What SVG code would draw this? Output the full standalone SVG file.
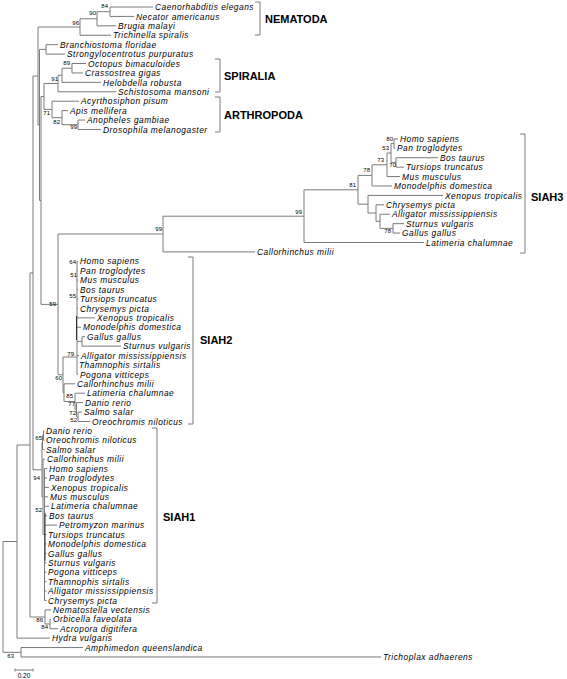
<svg xmlns="http://www.w3.org/2000/svg" width="567" height="679" viewBox="0 0 567 679">
<style>
.e{fill:none;stroke:#7a7a7a;stroke-width:1}
.d{fill:none;stroke:#333;stroke-width:1}
.k{fill:none;stroke:#7a7a7a;stroke-width:1}
.t{font-family:"Liberation Sans",Arial,sans-serif;font-style:italic;font-size:8.4px;letter-spacing:0.5px;fill:#000}
.b{font-family:"Liberation Sans",Arial,sans-serif;font-weight:bold;font-size:11px;fill:#000}
.n{font-family:"Liberation Sans",Arial,sans-serif;font-size:6px;fill:#000;text-anchor:end}
.s{font-family:"Liberation Sans",Arial,sans-serif;font-size:6.5px;fill:#000;text-anchor:middle}
</style>
<rect width="567" height="679" fill="#fff"/>
<g id="connectors">
<path class="e" d="M110,7V16.42M110,7H153M110,16.42H134M97,11.7H110M97,11.7V25.84M97,25.84H116M80,18.8H97M80,18.8V35.26M80,35.26H111M38,27H80
M46,44.68V54.1M46,44.68H58M46,54.1H65M39.5,49.4H46
M72,63.52V72.94M72,63.52H86M72,72.94H83M62,68.2H72M62,68.2V82.36M62,82.36H101M58,75.3H62M58,75.3V91.78M58,91.78H116M44,83.5H58
M78,120.04V129.46M78,120.04H85M78,129.46H101M62,124.7H78M62,110.62V124.7M62,110.62H68M52,117.7H62M52,101.2V117.7M52,101.2H79M44,109.4H52M44,83.5V109.4
M394,138.88V148.3M394,138.88H398M394,148.3H395
M396,157.72V167.14M396,157.72H438M396,167.14H404
M391,143.6V162.4M391,143.6H394M391,162.4H396
M387,153V176.56M387,153H391M387,176.56H400
M372,164.8V185.98M372,164.8H387M372,185.98H392
M393,223.66V233.08M393,223.66H404M393,233.08H400
M380,214.24V228.4M380,214.24H390M380,228.4H393
M376,204.82V221.3M376,204.82H384M376,221.3H380
M368,195.4V213M368,195.4H443M368,213H376
M358,175.4V204.2M358,175.4H372M358,204.2H368
M304,189.8V242.5M304,189.8H358M304,242.5H424
M163,216.2V251.92M163,216.2H304M163,251.92H255
M58,234V374.8M58,234H163M58,374.8H63
M41,96.5V304.4M41,96.5H44M41,304.4H58
M39.5,49.4V200.5M39.5,200.5H41
M38,27V125M38,125H39.5
M33,76V469.8M33,76H38M33,469.8H42
M30,272.9V617M30,272.9H33M30,617H45
M17,445V638.14M17,445H30M17,638.14H50
M21,647.56V656.98M21,647.56H83M21,656.98H381
M3,541.5V652.3M3,541.5H17M3,652.3H21
M77,261.34V374.38M63,357H77M77,261.34H78M77,270.76H78M77,280.18H78M77,289.6H78M77,299.02H78M77,308.44H78M77,317.86H95M77,327.28H81M77,355.54H79M77,374.38H78
M82,336.7V346.12M77,341.4H82M82,336.7H85M82,346.12H121
M78,412.06V421.48M78,412.06H82M78,421.48H90
M76.5,402.64V416.8M76.5,402.64H83M76.5,416.8H78
M75,393.22V409.7M75,393.22H85M75,409.7H76.5
M64,383.8V401.5M64,383.8H75M64,401.5H75
M63,357V392.6M63,392.6H64
M43.5,430.9V440.32M43.5,430.9H44.5M43.5,440.32H44.5
M42.5,435.6V449.74M42.5,435.6H43.5M42.5,449.74H44.5
M43,459.16V534.5M43,459.16H45M43,534.5H44.5
M42,442.7V496.9M42,442.7H42.5M42,496.9H43
M44.5,468.58V600.46M44.5,468.58H47M44.5,478H47M44.5,487.42H49M44.5,496.84H48M44.5,506.26H49M44.5,515.68H47M44.5,525.1H57M44.5,534.52H46.5M44.5,543.94H46.5M44.5,553.36H46.5M44.5,562.78H46.5M44.5,572.2H46.5M44.5,581.62H46.5M44.5,591.04H46.5M44.5,600.46H46.5
M50,619.3V628.72M50,619.3H51M50,628.72H58M45,609.88V624M45,609.88H51M45,624H50"/>
<path class="d" d="M76.5,316V340M45,513V561"/>
</g>
<g id="nematoda"><path class="k" d="M255,2H260V35H255"/><text class="b" x="265" y="22.5">NEMATODA</text></g>
<g id="spiralia"><path class="k" d="M215,59H220V92H215"/><text class="b" x="224" y="79.5">SPIRALIA</text></g>
<g id="arthropoda"><path class="k" d="M215,97H220V132H215"/><text class="b" x="224" y="118.5">ARTHROPODA</text></g>
<g id="siah3"><path class="k" d="M520,134H525V253H520"/><text class="b" x="531" y="200.5">SIAH3</text></g>
<g id="siah2"><path class="k" d="M188,257H193V424H188"/><text class="b" x="200" y="343.5">SIAH2</text></g>
<g id="siah1"><path class="k" d="M152,428H157V603H152"/><text class="b" x="163" y="520.5">SIAH1</text></g>
<g id="t0"><text class="t" x="155" y="10.1">Caenorhabditis elegans</text></g>
<g id="t1"><text class="t" x="136" y="19.5">Necator americanus</text></g>
<g id="t2"><text class="t" x="118" y="28.9">Brugia malayi</text></g>
<g id="t3"><text class="t" x="113" y="38.4">Trichinella spiralis</text></g>
<g id="t4"><text class="t" x="60" y="47.8">Branchiostoma floridae</text></g>
<g id="t5"><text class="t" x="67" y="57.2">Strongylocentrotus purpuratus</text></g>
<g id="t6"><text class="t" x="88" y="66.6">Octopus bimaculoides</text></g>
<g id="t7"><text class="t" x="85" y="76">Crassostrea gigas</text></g>
<g id="t8"><text class="t" x="103" y="85.5">Helobdella robusta</text></g>
<g id="t9"><text class="t" x="118" y="94.9">Schistosoma mansoni</text></g>
<g id="t10"><text class="t" x="81" y="104.3">Acyrthosiphon pisum</text></g>
<g id="t11"><text class="t" x="70" y="113.7">Apis mellifera</text></g>
<g id="t12"><text class="t" x="87" y="123.1">Anopheles gambiae</text></g>
<g id="t13"><text class="t" x="103" y="132.6">Drosophila melanogaster</text></g>
<g id="t14"><text class="t" x="400" y="142">Homo sapiens</text></g>
<g id="t15"><text class="t" x="397" y="151.4">Pan troglodytes</text></g>
<g id="t16"><text class="t" x="440" y="160.8">Bos taurus</text></g>
<g id="t17"><text class="t" x="406" y="170.2">Tursiops truncatus</text></g>
<g id="t18"><text class="t" x="402" y="179.7">Mus musculus</text></g>
<g id="t19"><text class="t" x="394" y="189.1">Monodelphis domestica</text></g>
<g id="t20"><text class="t" x="445" y="198.5">Xenopus tropicalis</text></g>
<g id="t21"><text class="t" x="386" y="207.9">Chrysemys picta</text></g>
<g id="t22"><text class="t" x="392" y="217.3">Alligator mississippiensis</text></g>
<g id="t23"><text class="t" x="406" y="226.8">Sturnus vulgaris</text></g>
<g id="t24"><text class="t" x="402" y="236.2">Gallus gallus</text></g>
<g id="t25"><text class="t" x="426" y="245.6">Latimeria chalumnae</text></g>
<g id="t26"><text class="t" x="257" y="255">Callorhinchus milii</text></g>
<g id="t27"><text class="t" x="80" y="264.4">Homo sapiens</text></g>
<g id="t28"><text class="t" x="80" y="273.9">Pan troglodytes</text></g>
<g id="t29"><text class="t" x="80" y="283.3">Mus musculus</text></g>
<g id="t30"><text class="t" x="80" y="292.7">Bos taurus</text></g>
<g id="t31"><text class="t" x="80" y="302.1">Tursiops truncatus</text></g>
<g id="t32"><text class="t" x="80" y="311.5">Chrysemys picta</text></g>
<g id="t33"><text class="t" x="97" y="321">Xenopus tropicalis</text></g>
<g id="t34"><text class="t" x="83" y="330.4">Monodelphis domestica</text></g>
<g id="t35"><text class="t" x="87" y="339.8">Gallus gallus</text></g>
<g id="t36"><text class="t" x="123" y="349.2">Sturnus vulgaris</text></g>
<g id="t37"><text class="t" x="81" y="358.6">Alligator mississippiensis</text></g>
<g id="t38"><text class="t" x="79" y="368.1">Thamnophis sirtalis</text></g>
<g id="t39"><text class="t" x="80" y="377.5">Pogona vitticeps</text></g>
<g id="t40"><text class="t" x="77" y="386.9">Callorhinchus milii</text></g>
<g id="t41"><text class="t" x="87" y="396.3">Latimeria chalumnae</text></g>
<g id="t42"><text class="t" x="85" y="405.7">Danio rerio</text></g>
<g id="t43"><text class="t" x="84" y="415.2">Salmo salar</text></g>
<g id="t44"><text class="t" x="92" y="424.6">Oreochromis niloticus</text></g>
<g id="t45"><text class="t" x="46" y="434">Danio rerio</text></g>
<g id="t46"><text class="t" x="46" y="443.4">Oreochromis niloticus</text></g>
<g id="t47"><text class="t" x="46" y="452.8">Salmo salar</text></g>
<g id="t48"><text class="t" x="47" y="462.3">Callorhinchus milii</text></g>
<g id="t49"><text class="t" x="49" y="471.7">Homo sapiens</text></g>
<g id="t50"><text class="t" x="49" y="481.1">Pan troglodytes</text></g>
<g id="t51"><text class="t" x="51" y="490.5">Xenopus tropicalis</text></g>
<g id="t52"><text class="t" x="50" y="499.9">Mus musculus</text></g>
<g id="t53"><text class="t" x="51" y="509.4">Latimeria chalumnae</text></g>
<g id="t54"><text class="t" x="49" y="518.8">Bos taurus</text></g>
<g id="t55"><text class="t" x="59" y="528.2">Petromyzon marinus</text></g>
<g id="t56"><text class="t" x="48" y="537.6">Tursiops truncatus</text></g>
<g id="t57"><text class="t" x="48" y="547">Monodelphis domestica</text></g>
<g id="t58"><text class="t" x="48" y="556.5">Gallus gallus</text></g>
<g id="t59"><text class="t" x="48" y="565.9">Sturnus vulgaris</text></g>
<g id="t60"><text class="t" x="48" y="575.3">Pogona vitticeps</text></g>
<g id="t61"><text class="t" x="48" y="584.7">Thamnophis sirtalis</text></g>
<g id="t62"><text class="t" x="48" y="594.1">Alligator mississippiensis</text></g>
<g id="t63"><text class="t" x="48" y="603.6">Chrysemys picta</text></g>
<g id="t64"><text class="t" x="53" y="613">Nematostella vectensis</text></g>
<g id="t65"><text class="t" x="53" y="622.4">Orbicella faveolata</text></g>
<g id="t66"><text class="t" x="60" y="631.8">Acropora digitifera</text></g>
<g id="t67"><text class="t" x="52" y="641.2">Hydra vulgaris</text></g>
<g id="t68"><text class="t" x="85" y="650.7">Amphimedon queenslandica</text></g>
<g id="t69"><text class="t" x="383" y="660.1">Trichoplax adhaerens</text></g>
<g id="support">
<text class="n" x="108" y="8">84</text><text class="n" x="96" y="15">90</text><text class="n" x="79" y="25">96</text>
<text class="n" x="70" y="65">89</text><text class="n" x="58" y="81">91</text>
<text class="n" x="50" y="115">71</text><text class="n" x="60" y="124">82</text><text class="n" x="77" y="129">99</text>
<text class="n" x="393" y="141">80</text><text class="n" x="389" y="150">53</text><text class="n" x="396" y="167">70</text><text class="n" x="384" y="162">73</text><text class="n" x="370" y="172">78</text><text class="n" x="356" y="187">81</text><text class="n" x="391" y="233">78</text>
<text class="n" x="302" y="214">99</text><text class="n" x="162" y="231">99</text><text class="n" x="56" y="306">59</text>
<text class="n" x="76" y="264">64</text><text class="n" x="77" y="277">51</text><text class="n" x="76" y="298">55</text><text class="n" x="74" y="356">79</text><text class="n" x="62" y="380">60</text>
<text class="n" x="73" y="398">85</text><text class="n" x="75" y="406">77</text><text class="n" x="76" y="415">72</text><text class="n" x="77" y="422">52</text>
<text class="n" x="42" y="440">65</text><text class="n" x="40" y="480">94</text><text class="n" x="42" y="512">52</text>
<text class="n" x="43" y="622">86</text><text class="n" x="48" y="629">84</text><text class="n" x="14" y="658">63</text>
</g>
<g id="scalebar"><path class="k" d="M15,670H33M15,668.5V671.5M33,668.5V671.5"/><text class="s" x="24" y="677.5">0.20</text></g>
</svg>
